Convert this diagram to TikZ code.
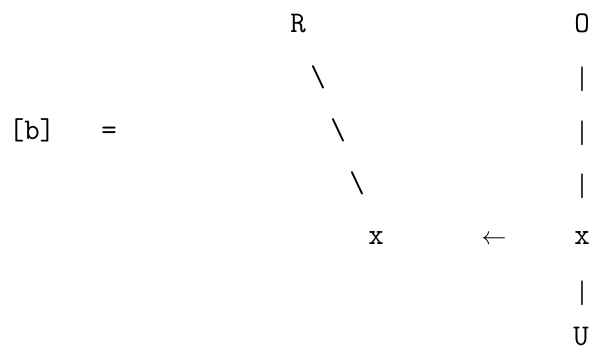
\documentclass[tikz,border=0pt]{standalone}
\usepackage{tikz}

\begin{document}
\begin{tikzpicture}[
    x=1pt, y=-1pt,
    glyph/.style={font=\fontsize{30}{36}\selectfont\ttfamily, inner sep=0pt, anchor=base},
    bar/.style={font=\fontsize{32}{36}\selectfont\boldmath, inner sep=0pt, anchor=center}
]
\useasboundingbox (0,0) rectangle (592,352);

% left-hand side
\node[glyph] (lhs) at (32,140)  {[b]};
\node[glyph] (eq)  at (109,140) {=};

% slanted branch
\node[glyph] (r)  at (298,33)  {R};
\node[glyph] (s1) at (318,87)  {\char`\\};
\node[glyph] (s2) at (338,140) {\char`\\};
\node[glyph] (s3) at (357,193) {\char`\\};
\node[glyph] (xl) at (376,245) {x};

% arrow between the two x
\node[glyph] (arr) at (494,245) {$\leftarrow$};

% vertical branch
\node[glyph] (o)  at (582,33)  {O};
\node[bar]   (p1) at (582,79)  {$|$};
\node[bar]   (p2) at (582,133) {$|$};
\node[bar]   (p3) at (582,186) {$|$};
\node[glyph] (xr) at (582,245) {x};
\node[bar]   (p4) at (582,293) {$|$};
\node[glyph] (u)  at (581,346) {U};

\end{tikzpicture}
\end{document}
